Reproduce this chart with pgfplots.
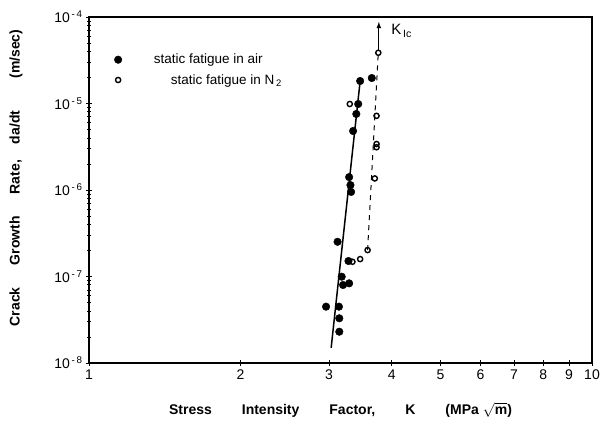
\documentclass[border=0pt]{standalone}
\usepackage{fontspec}
\setmainfont{Liberation Sans}
\usepackage{pgfplots}
\pgfplotsset{compat=1.18}
\begin{document}
\begin{tikzpicture}
\begin{axis}[
  xmode=log, ymode=log,
  scale only axis, width=503pt, height=346pt,
  xmin=1, xmax=10, ymin=1e-8, ymax=1e-4,
  xtick={1,2,3,4,5,6,7,8,9,10},
  xticklabels={1,2,3,4,5,6,7,8,9,10},
  xminorticks=false,
  ytick={1e-8,1e-7,1e-6,1e-5,1e-4},
  yticklabels={10\textsuperscript{\,-\,8},10\textsuperscript{\,-\,7},10\textsuperscript{\,-\,6},10\textsuperscript{\,-\,5},10\textsuperscript{\,-\,4}},
  axis line style={line width=1.2pt},
  tick style={black, line width=0.8pt},
  tick align=center, tick pos=left,
  major tick length=6pt, minor tick length=4pt,
  tick label style={font=\fontsize{14}{16}\selectfont},
  /pgf/number format/assume math mode=true,
  xlabel={\bfseries Stress\hspace{30pt}Intensity\hspace{30pt}Factor,\hspace{30pt}K\hspace{30pt}(MPa $\sqrt{\mbox{\bfseries m}}$)},
  ylabel={\bfseries Crack\hspace{22pt}Growth\hspace{22pt}Rate,\hspace{16pt}da/dt\hspace{32pt}(m/sec)},
  xlabel style={at={(axis description cs:0.5,-0.135)}, anchor=center, font=\fontsize{14}{16}\selectfont},
  ylabel style={at={(axis description cs:-0.145,0.535)}, anchor=center, font=\fontsize{14}{16}\selectfont},
  legend style={at={(axis description cs:0.044,0.905)}, anchor=north west, draw=none, fill=none,
    font=\fontsize{13.5}{15}\selectfont, row sep=5pt},
  legend cell align=left,
]
% static fatigue in air
\addplot[only marks, mark=*, mark size=3.8pt, black] coordinates {
(3.46,1.82e-5) (3.65,1.97e-5) (3.43,9.87e-6) (3.40,7.57e-6) (3.35,4.81e-6)
(3.29,1.41e-6) (3.31,1.14e-6) (3.32,9.5e-7) (3.12,2.52e-7) (3.28,1.51e-7)
(3.18,9.95e-8) (3.20,7.98e-8) (3.29,8.34e-8) (2.96,4.48e-8) (3.14,4.48e-8)
(3.145,3.29e-8) (3.145,2.30e-8)
};
\addlegendentry{\hspace*{30pt}static fatigue in air}
% static fatigue in N2
\addplot[only marks, mark=o, mark size=2.6pt, mark options={line width=1.4pt}, black] coordinates {
(3.76,3.86e-5) (3.30,9.87e-6) (3.73,7.2e-6) (3.73,3.40e-6) (3.73,3.12e-6)
(3.70,1.36e-6) (3.58,2.02e-7) (3.46,1.59e-7) (3.34,1.48e-7)
};
\addlegendentry{\hspace*{47pt}static fatigue in N\textsubscript{\,2}}
% fits
\addplot[black, line width=1.5pt, forget plot] coordinates {(3.03,1.5e-8) (3.46,1.82e-5)};
\addplot[black, line width=1pt, dash pattern=on 5pt off 5pt, forget plot] coordinates {(3.58,2.02e-7) (3.76,3.9e-5)};
\addplot[black, line width=1.2pt, -latex, forget plot] coordinates {(3.77,4.2e-5) (3.77,8.8e-5)};
\node[anchor=west, font=\fontsize{15}{17}\selectfont] at (axis cs:3.93,6.9e-5) {K\textsubscript{\,Ic}};
\end{axis}
\pgfresetboundingbox
\path[use as bounding box] (current axis.south west) ++(-89pt,-62pt) rectangle ++(600pt,425pt);
\end{tikzpicture}
\end{document}
